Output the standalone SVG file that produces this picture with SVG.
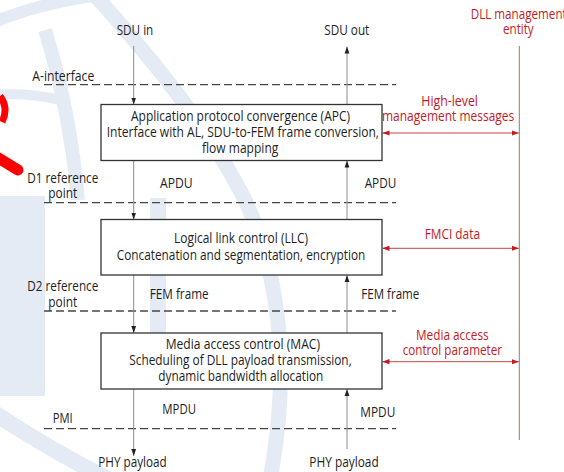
<svg xmlns="http://www.w3.org/2000/svg" width="564" height="472" viewBox="0 0 564 472">
<defs>
<style>
text{font-family:"Open Sans","Noto Sans","Liberation Sans",sans-serif;font-size:14px;fill:#1e1e1e}
.r{fill:#c41a24}
.box{fill:#ffffff;stroke:#333333;stroke-width:1.3}
.flow{stroke:#8c8c8c;stroke-width:1;fill:none}
.mgmt{stroke:#c04848;stroke-width:1;fill:none}
.dash{stroke:#474747;stroke-width:1.3;stroke-dasharray:8 4;fill:none}
.wm{fill:none;stroke:#e5ebf5}
</style>
<marker id="ah" markerUnits="userSpaceOnUse" markerWidth="7" markerHeight="6" refX="7" refY="3" orient="auto">
<path d="M0,0.6 L7,3 L0,5.4 z" fill="#222222"/>
</marker>
<marker id="rh" markerUnits="userSpaceOnUse" markerWidth="7" markerHeight="6" refX="7" refY="3" orient="auto-start-reverse">
<path d="M0,0.4 L7,3 L0,5.6 z" fill="#c41a24"/>
</marker>
</defs>
<rect width="564" height="472" fill="#ffffff"/>
<g id="watermark">
<path class="wm" d="M-5,22 Q40,2 120,-8" stroke-width="12"/>
<path class="wm" d="M90,-10 Q200,110 245,200 Q300,320 270,480" stroke-width="15"/>
<path class="wm" d="M45,30 Q70,110 78,200" stroke-width="14"/>
<path class="wm" d="M-10,95 Q30,92 60,100" stroke-width="10"/>
<path class="wm" d="M-10,410 Q50,450 110,480" stroke-width="16"/>
<rect x="0" y="196" width="45" height="200" fill="#e5ebf5"/>
<rect x="150" y="198" width="16" height="140" fill="#e5ebf5"/>
</g>
<g id="red-mark">
<path d="M0,96 Q9,108 2,122" fill="none" stroke="#ff0000" stroke-width="7"/>
<line x1="-5" y1="156" x2="18" y2="170" stroke="#ff0000" stroke-width="11" stroke-linecap="round"/>
</g>
<g id="reference-points">
<line class="dash" x1="44" y1="84.7" x2="396" y2="84.7"/>
<line class="dash" x1="44" y1="202.7" x2="396" y2="202.7"/>
<line class="dash" x1="44" y1="311" x2="396" y2="311"/>
<line class="dash" x1="44" y1="428.7" x2="396" y2="428.7"/>
<text x="32.3" y="81" textLength="62" lengthAdjust="spacingAndGlyphs">A-interface</text>
<text x="27.3" y="182.7" textLength="71" lengthAdjust="spacingAndGlyphs">D1 reference</text>
<text x="48.3" y="197.7" textLength="29" lengthAdjust="spacingAndGlyphs">point</text>
<text x="27.3" y="290.7" textLength="71" lengthAdjust="spacingAndGlyphs">D2 reference</text>
<text x="48.3" y="306.5" textLength="29" lengthAdjust="spacingAndGlyphs">point</text>
<text x="52.7" y="422.7" textLength="20" lengthAdjust="spacingAndGlyphs">PMI</text>
</g>
<g id="connectors">
<line class="flow" x1="133.7" y1="46" x2="133.7" y2="104.5" marker-end="url(#ah)"/>
<line class="flow" x1="133.7" y1="160.5" x2="133.7" y2="219.5" marker-end="url(#ah)"/>
<line class="flow" x1="133.7" y1="275" x2="133.7" y2="333" marker-end="url(#ah)"/>
<line class="flow" x1="133.7" y1="389" x2="133.7" y2="456" marker-end="url(#ah)"/>
<line class="flow" x1="347" y1="104.5" x2="347" y2="46.5" marker-end="url(#ah)"/>
<line class="flow" x1="347" y1="219.5" x2="347" y2="160.5" marker-end="url(#ah)"/>
<line class="flow" x1="347" y1="333" x2="347" y2="275" marker-end="url(#ah)"/>
<line class="flow" x1="347" y1="449" x2="347" y2="389" marker-end="url(#ah)"/>
<line class="mgmt" x1="382.5" y1="133" x2="518.8" y2="133" marker-start="url(#rh)" marker-end="url(#rh)"/>
<line class="mgmt" x1="382.5" y1="248.3" x2="518.8" y2="248.3" marker-start="url(#rh)" marker-end="url(#rh)"/>
<line class="mgmt" x1="382.5" y1="361.7" x2="518.8" y2="361.7" marker-start="url(#rh)" marker-end="url(#rh)"/>
<text x="116.7" y="35" textLength="36.6" lengthAdjust="spacingAndGlyphs">SDU in</text>
<text x="324.3" y="35" textLength="45" lengthAdjust="spacingAndGlyphs">SDU out</text>
<text x="160" y="187.7" textLength="32.7" lengthAdjust="spacingAndGlyphs">APDU</text>
<text x="364.7" y="187.7" textLength="31.6" lengthAdjust="spacingAndGlyphs">APDU</text>
<text x="149.7" y="299.3" textLength="59" lengthAdjust="spacingAndGlyphs">FEM frame</text>
<text x="361.3" y="298.7" textLength="58" lengthAdjust="spacingAndGlyphs">FEM frame</text>
<text x="162.3" y="414" textLength="33.7" lengthAdjust="spacingAndGlyphs">MPDU</text>
<text x="360.3" y="416.7" textLength="35" lengthAdjust="spacingAndGlyphs">MPDU</text>
<text x="98.3" y="466.7" textLength="68.4" lengthAdjust="spacingAndGlyphs">PHY payload</text>
<text x="309.3" y="466.7" textLength="69.4" lengthAdjust="spacingAndGlyphs">PHY payload</text>
<text class="r" x="421.3" y="106" textLength="56.7" lengthAdjust="spacingAndGlyphs">High-level</text>
<text class="r" x="382" y="121.3" textLength="132.3" lengthAdjust="spacingAndGlyphs">management messages</text>
<text class="r" x="424.7" y="239.3" textLength="55.3" lengthAdjust="spacingAndGlyphs">FMCI data</text>
<text class="r" x="416" y="340" textLength="72.7" lengthAdjust="spacingAndGlyphs">Media access</text>
<text class="r" x="402.7" y="355" textLength="99.3" lengthAdjust="spacingAndGlyphs">control parameter</text>
</g>
<g id="apc">
<rect class="box" x="101" y="104.5" width="281" height="56"/>
<text x="131" y="121" textLength="219" lengthAdjust="spacingAndGlyphs">Application protocol convergence (APC)</text>
<text x="106.7" y="136.8" textLength="272.3" lengthAdjust="spacingAndGlyphs">Interface with AL, SDU-to-FEM frame conversion,</text>
<text x="202" y="152.5" textLength="76.3" lengthAdjust="spacingAndGlyphs">flow mapping</text>
</g>
<g id="llc">
<rect class="box" x="101" y="219.5" width="281" height="55.5"/>
<text x="174" y="243.3" textLength="134" lengthAdjust="spacingAndGlyphs">Logical link control (LLC)</text>
<text x="116.7" y="260" textLength="248.6" lengthAdjust="spacingAndGlyphs">Concatenation and segmentation, encryption</text>
</g>
<g id="mac">
<rect class="box" x="101" y="333" width="281" height="56"/>
<text x="165.7" y="348.7" textLength="154.3" lengthAdjust="spacingAndGlyphs">Media access control (MAC)</text>
<text x="129.3" y="364.7" textLength="222.4" lengthAdjust="spacingAndGlyphs">Scheduling of DLL payload transmission,</text>
<text x="158.3" y="381" textLength="165" lengthAdjust="spacingAndGlyphs">dynamic bandwidth allocation</text>
</g>
<g id="dll-management-entity">
<line x1="519.3" y1="46" x2="519.3" y2="440" stroke="#b56a6a" stroke-width="1"/>
<text class="r" x="470.7" y="19" textLength="96" lengthAdjust="spacingAndGlyphs">DLL management</text>
<text class="r" x="503" y="34" textLength="30.7" lengthAdjust="spacingAndGlyphs">entity</text>
</g>
</svg>
